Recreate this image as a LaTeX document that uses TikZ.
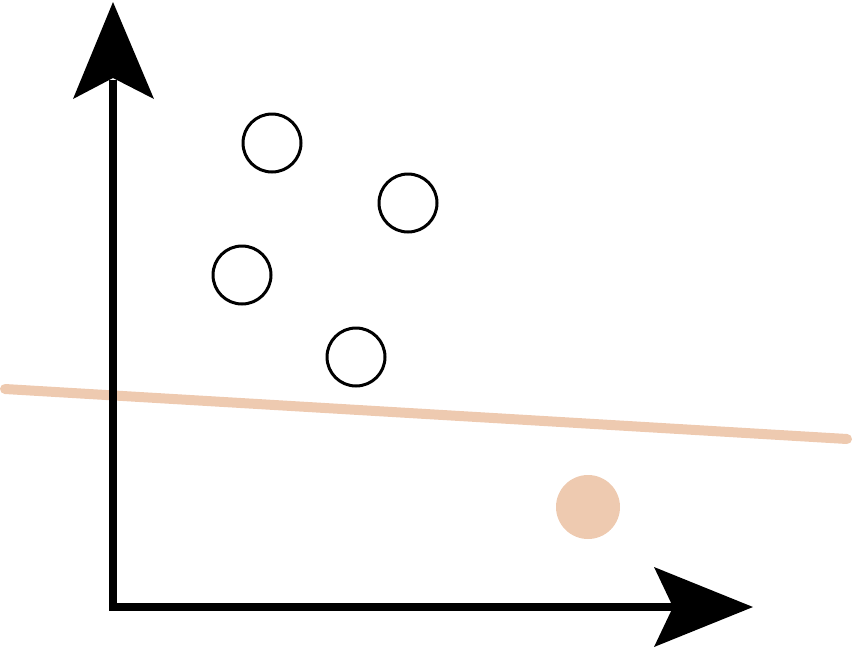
\documentclass[tikz,border=0pt]{standalone}
\definecolor{peach}{HTML}{EECAB0}
\begin{document}
\begin{tikzpicture}[x=1pt,y=-1pt,
  axisline/.style={line width=8pt, line join=miter, line cap=butt, black},
  tiphead/.style={fill=black},
  emptydot/.style={draw=black, line width=3pt, fill=white},
  peachline/.style={line width=10pt, line cap=round, peach},
  peachdot/.style={fill=peach}]
\useasboundingbox (0,0) rectangle (852,649);
% separating line
\draw[peachline] (5,389) -- (847,439);
% axes
\draw[axisline] (113,80) -- (113,607) -- (675,607);
\fill[tiphead] (113,2) -- (154,99) -- (113,78) -- (73,99) -- cycle;
\fill[tiphead] (753,607) -- (654,647) -- (673,607) -- (654,567) -- cycle;
% data points
\draw[emptydot] (272,143) circle[radius=29];
\draw[emptydot] (408,203) circle[radius=29];
\draw[emptydot] (242,275) circle[radius=29];
\draw[emptydot] (356,357) circle[radius=29];
\fill[peachdot] (588,507) circle[radius=32];
\end{tikzpicture}
\end{document}
